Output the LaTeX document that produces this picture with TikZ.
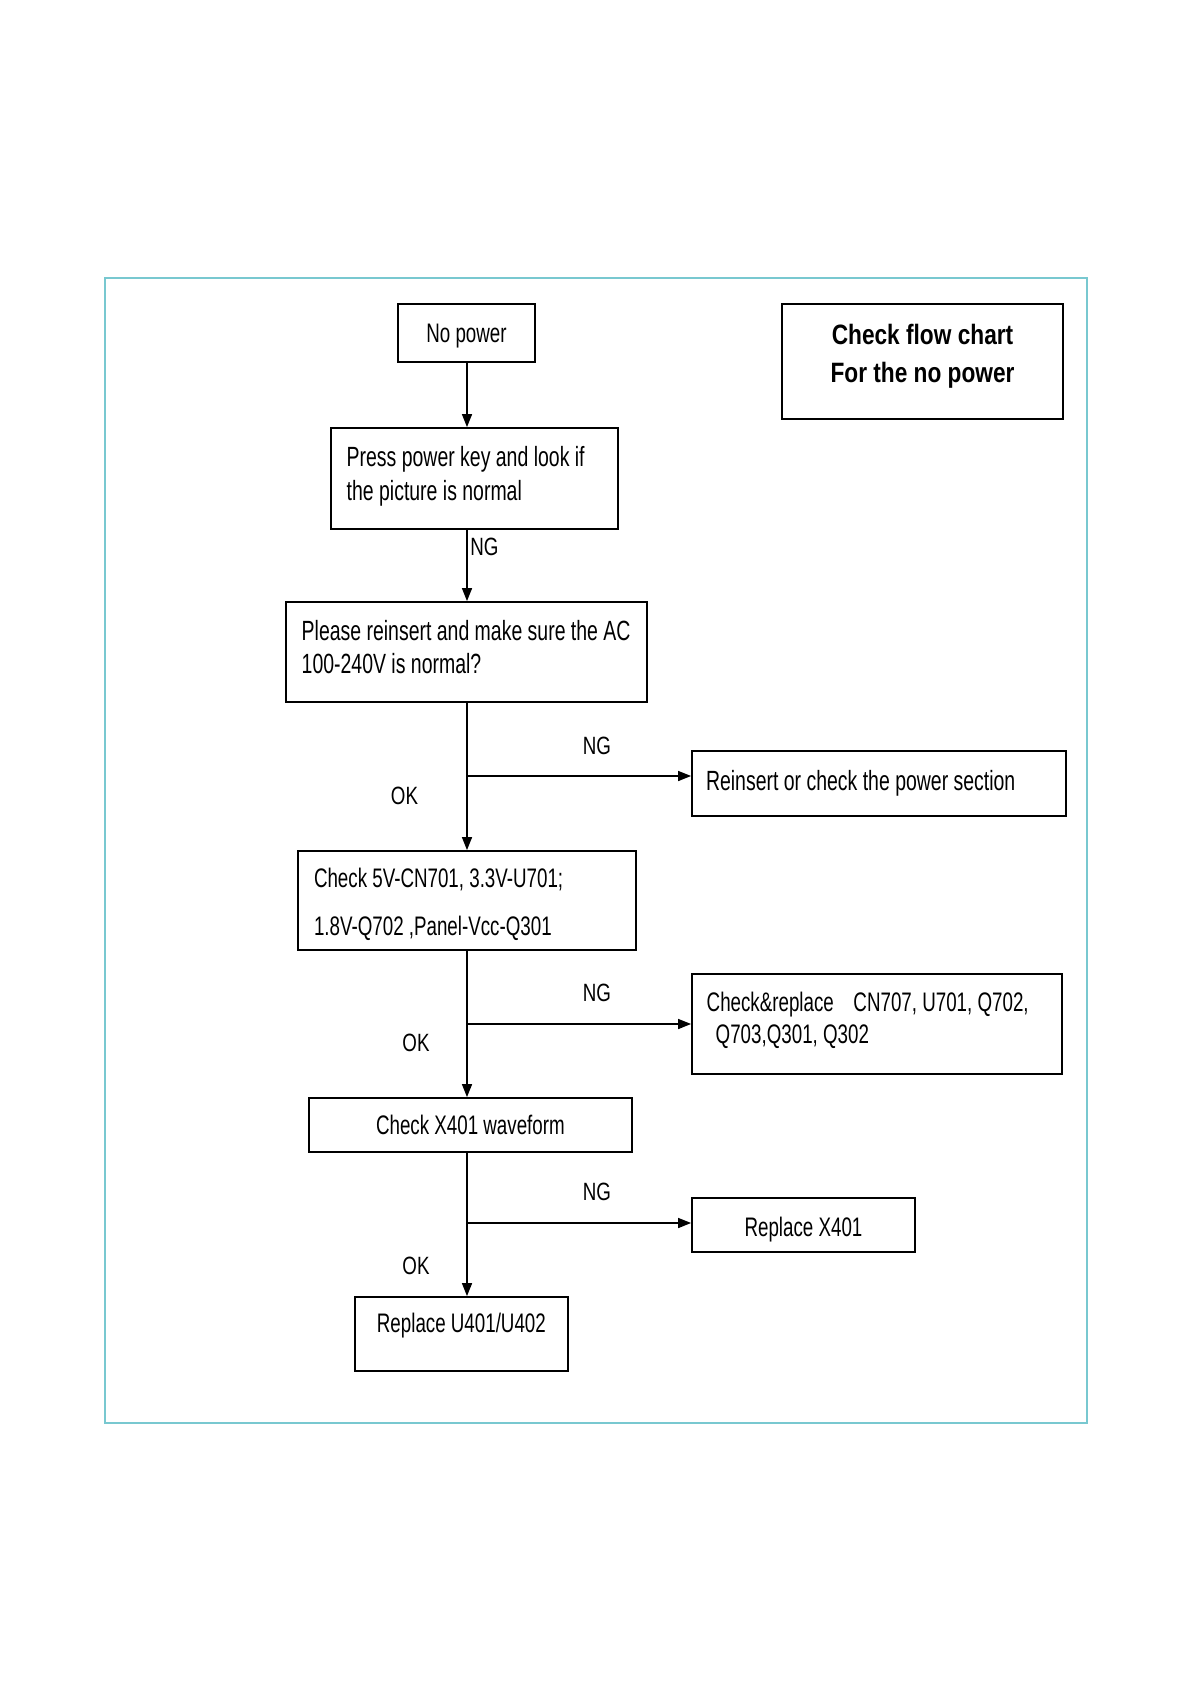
\documentclass[tikz,border=0pt]{standalone}
\usepackage{fontspec}
\setmainfont{Liberation Sans}[FakeStretch=0.70]
\newfontfamily\titlefont{Liberation Sans}[FakeStretch=0.81]
\newfontfamily\lblfont{Liberation Sans}[FakeStretch=0.75]
\usetikzlibrary{arrows.meta}
\definecolor{framecol}{RGB}{120,200,208}
\newcommand{\txtblock}[2]{\makebox[#1][l]{\begin{tabular}{@{}l@{}}#2\end{tabular}}}
\begin{document}
\begin{tikzpicture}[x=0.5pt,y=-0.5pt,
  box/.style={draw=black, line width=0.9pt, rectangle, inner sep=0pt, font=\fontsize{13.9}{16.5}\selectfont},
  lbl/.style={inner sep=0pt, font=\lblfont\fontsize{12.5}{15}\selectfont},
  arr/.style={line width=0.75pt, -{Triangle[length=6.5pt,width=5pt]}}]
\useasboundingbox (0,0) rectangle (1190,1684);
\draw[framecol, line width=1pt] (105,278) rectangle (1087,1423);

\node[box, minimum width=68.5pt, minimum height=29pt, font=\fontsize{13.4}{14}\selectfont, text depth=0pt] (nopower) at (466.5,333) {No power};
\node[box, minimum width=143.5pt, minimum height=50.5pt, font=\fontsize{13.9}{16.7}\selectfont, text height=19.95pt, text depth=14.25pt] (press) at (474.5,478.5) {\txtblock{127.8pt}{Press power key and look if\\the picture is normal}};
\node[box, minimum width=180.4pt, minimum height=50pt, font=\fontsize{13.9}{16.7}\selectfont, text height=19.95pt, text depth=14.25pt] (please) at (466.4,652) {\txtblock{164.7pt}{Please reinsert and make sure the AC\\100-240V is normal?}};
\node[box, minimum width=187pt, minimum height=32.5pt] (rein) at (879,783.5) {\makebox[173pt][l]{Reinsert or check the power section}};
\node[box, minimum width=169pt, minimum height=49.5pt, font=\fontsize{13.4}{24}\selectfont, text height=27.1pt, text depth=18.1pt] (check5) at (467,900.5) {\txtblock{153pt}{Check 5V-CN701, 3.3V-U701;\\1.8V-Q702 ,Panel-Vcc-Q301}};
\node[box, minimum width=185pt, minimum height=50pt, font=\fontsize{13.4}{16.3}\selectfont, text height=19.4pt, text depth=15.4pt] (chrep) at (877,1024) {\txtblock{170.3pt}{Check\&replace\hspace{9.8pt}CN707, U701, Q702,\\\hspace*{4.5pt}Q703,Q301, Q302}};
\node[box, minimum width=161.4pt, minimum height=27pt, font=\fontsize{13.4}{15}\selectfont] (x401) at (470.4,1125) {Check X401 waveform};
\node[box, minimum width=111.5pt, minimum height=27pt, font=\fontsize{13.4}{15}\selectfont, text height=11.3pt, text depth=0pt] (rx401) at (803.5,1225) {Replace X401};
\node[box, minimum width=106.4pt, minimum height=37pt, font=\fontsize{13.4}{15}\selectfont, text height=9.1pt, text depth=10.7pt] (ru) at (461.4,1334) {Replace U401/U402};
\node[box, minimum width=140.5pt, minimum height=57.5pt, font=\titlefont\fontsize{14}{19}\selectfont\bfseries, text height=22.5pt, text depth=20.9pt] (title) at (922.5,361.5) {\begin{tabular}{@{}c@{}}Check flow chart\\For the no power\end{tabular}};

\coordinate (axis) at (467,0);
\coordinate (b1) at (467,776);
\coordinate (b2) at (467,1024);
\coordinate (b3) at (467,1223);

\draw[arr] (nopower.south -| axis) -- (press.north -| axis);
\draw[arr] (press.south -| axis) -- (please.north -| axis);
\draw[arr] (please.south -| axis) -- (check5.north -| axis);
\draw[arr] (check5.south -| axis) -- (x401.north -| axis);
\draw[arr] (x401.south -| axis) -- (ru.north -| axis);
\draw[arr] (b1) -- (b1 -| rein.west);
\draw[arr] (b2) -- (b2 -| chrep.west);
\draw[arr] (b3) -- (b3 -| rx401.west);

\node[lbl, anchor=west] (ng0) at (470,547) {NG};
\node[lbl] (ng1) at (597,746) {NG};
\node[lbl] (ok1) at (404.5,796) {OK};
\node[lbl] (ng2) at (597,993) {NG};
\node[lbl] (ok2) at (416,1042.7) {OK};
\node[lbl] (ng3) at (597,1192) {NG};
\node[lbl] (ok3) at (416,1266) {OK};
\end{tikzpicture}
\end{document}
